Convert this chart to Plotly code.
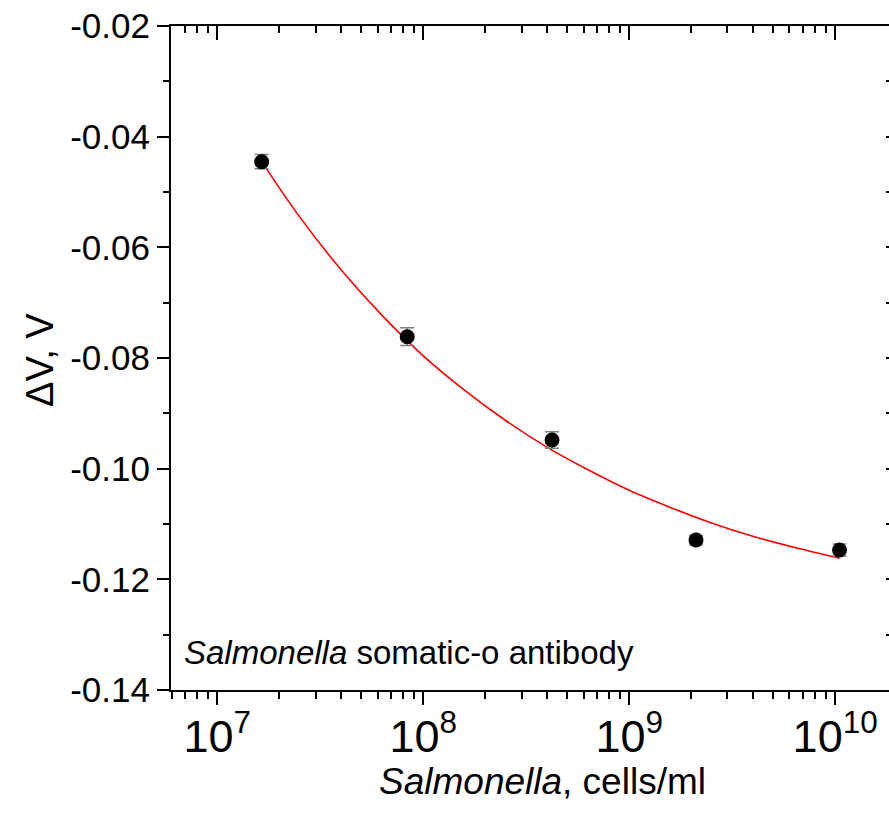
import plotly.graph_objects as go

# Measured data (cells/ml, delta V in volts)
conc = [1.643e7, 8.36e7, 4.22e8, 2.11e9, 1.05e10]
dv = [-0.04452, -0.07615, -0.09482, -0.1129, -0.1147]
dv_err = [0.0013, 0.0016, 0.0015, 0.0008, 0.0011]

# Fitted curve
fit_x = [1.643e7, 2.512e7, 3.981e7, 6.310e7, 1.0e8, 1.585e8, 2.512e8, 3.981e8,
         6.310e8, 1.0e9, 1.585e9, 2.512e9, 3.981e9, 6.310e9, 1.05e10]
fit_y = [-0.0445, -0.0545, -0.0640, -0.0723, -0.0796, -0.0858, -0.0913, -0.0961,
         -0.1002, -0.1039, -0.1070, -0.1098, -0.1122, -0.1142, -0.1162]

y_ticks = [-0.14, -0.12, -0.10, -0.08, -0.06, -0.04, -0.02]
y_ticktext = ["-0.14", "-0.12", "-0.10", "-0.08", "-0.06", "-0.04", "-0.02"]

FONT = "Liberation Sans, Arial, sans-serif"
W, H = 889, 817
L, R, T, B = 171, 0, 26, 127
XR = [6.7752, 10.2614]
YR = [-0.14, -0.02]

fig = go.Figure()
fig.add_trace(go.Scatter(x=fit_x, y=fit_y, mode="lines",
                         line=dict(color="#ff0000", width=1.6, shape="spline"),
                         showlegend=False, hoverinfo="skip"))
fig.add_trace(go.Scatter(x=conc, y=dv, mode="markers",
                         marker=dict(color="black", size=15, symbol="circle"),
                         error_y=dict(type="data", array=dv_err, color="#7f7f7f",
                                      thickness=1.5, width=7),
                         showlegend=False))

# invisible traces to activate the mirror / label axes
fig.add_trace(go.Scatter(x=[conc[0]], y=[dv[0]], xaxis="x2", yaxis="y2",
                         mode="markers", marker=dict(opacity=0), showlegend=False,
                         hoverinfo="skip"))
fig.add_trace(go.Scatter(x=[conc[0]], y=[dv[0]], xaxis="x3", yaxis="y",
                         mode="markers", marker=dict(opacity=0), showlegend=False,
                         hoverinfo="skip"))

fig.update_layout(
    width=W, height=H,
    margin=dict(l=L, r=R, t=T, b=B),
    plot_bgcolor="white", paper_bgcolor="white",
    xaxis=dict(type="log", range=XR, showgrid=False, zeroline=False,
               showline=True, linecolor="black", linewidth=2,
               ticks="outside", ticklen=13, tickwidth=2, tickcolor="black",
               dtick=1, showticklabels=False,
               minor=dict(dtick="D1", ticks="outside", ticklen=7, tickwidth=1.5,
                          tickcolor="black", showgrid=False)),
    xaxis3=dict(type="log", range=XR, overlaying="x", side="bottom", anchor="y",
                showgrid=False, zeroline=False, showline=False,
                ticks="outside", ticklen=9, tickcolor="rgba(0,0,0,0)",
                dtick=1, exponentformat="power", ticklabelstandoff=0,
                tickfont=dict(family=FONT, size=36, color="black")),
    xaxis2=dict(type="log", range=XR, overlaying="x", side="top", anchor="y",
                showgrid=False, zeroline=False, showline=True, linecolor="black",
                linewidth=2, ticks="inside", ticklen=14, tickwidth=2,
                tickcolor="black", dtick=1, showticklabels=False,
                minor=dict(dtick="D1", ticks="inside", ticklen=7, tickwidth=1.5,
                           tickcolor="black", showgrid=False)),
    yaxis=dict(range=YR, showgrid=False, zeroline=False, showline=True,
               linecolor="black", linewidth=2, ticks="outside", ticklen=12,
               tickwidth=2, tickcolor="black", tickvals=y_ticks,
               ticktext=y_ticktext, tickfont=dict(family=FONT, size=35, color="black"),
               minor=dict(dtick=0.01, ticks="outside", ticklen=6, tickwidth=1.5,
                          tickcolor="black", showgrid=False)),
    yaxis2=dict(range=YR, overlaying="y", side="right", anchor="x",
                showgrid=False, zeroline=False, showline=False,
                ticks="inside", ticklen=3, tickwidth=2, tickcolor="black",
                tickvals=y_ticks, showticklabels=False,
                minor=dict(dtick=0.01, ticks="inside", ticklen=3, tickwidth=1.5,
                           tickcolor="black", showgrid=False)),
    annotations=[
        dict(text="<i>Salmonella</i>, cells/ml", xref="paper", yref="paper",
             x=(542 - L) / (W - L - R), y=(H - B - 781) / (H - T - B),
             xanchor="center", yanchor="middle", showarrow=False,
             font=dict(family=FONT, size=37, color="black")),
        dict(text="ΔV, V", xref="paper", yref="paper",
             x=(40 - L) / (W - L - R), y=(H - B - 360) / (H - T - B),
             xanchor="center", yanchor="middle", textangle=-90, showarrow=False,
             font=dict(family=FONT, size=38, color="black")),
        dict(text="<i>Salmonella</i> somatic-o antibody", xref="paper", yref="paper",
             x=(182 - L) / (W - L - R), y=(H - B - 652) / (H - T - B),
             xanchor="left", yanchor="middle", showarrow=False,
             font=dict(family=FONT, size=33, color="black")),
    ],
)

fig.write_html("out.html")
